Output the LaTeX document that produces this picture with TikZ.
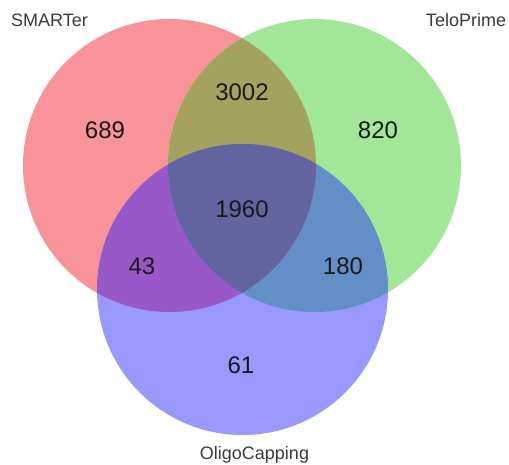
\documentclass[tikz,border=0pt]{standalone}
\usepackage{fontspec}
\setmainfont{Liberation Sans}
\definecolor{cR}{RGB}{248,147,153}
\definecolor{cG}{RGB}{162,230,152}
\definecolor{cB}{RGB}{153,152,252}
\definecolor{cRG}{RGB}{163,163,95}
\definecolor{cRB}{RGB}{152,88,200}
\definecolor{cGB}{RGB}{98,144,198}
\definecolor{cRGB}{RGB}{99,100,160}
\definecolor{txt}{RGB}{25,25,25}
\begin{document}
\begin{tikzpicture}[x=1pt,y=-1pt,
  num/.style={font=\fontsize{24}{24}\selectfont, text=txt, inner sep=0pt},
  lab/.style={font=\fontsize{18}{18}\selectfont, text=txt!85!white, inner sep=0pt}]
\useasboundingbox (0,0) rectangle (509,465);
\fill[white] (0,0) rectangle (509,465);
\def\R{(169.5,165.5) circle (146.5)}
\def\G{(314.5,165.5) circle (146.5)}
\def\B{(242.5,289.5) circle (145.5)}
\fill[cR] \R;
\fill[cG] \G;
\fill[cB] \B;
\begin{scope}\clip \R; \fill[cRG] \G; \fill[cRB] \B; \end{scope}
\begin{scope}\clip \G; \fill[cGB] \B; \end{scope}
\begin{scope}\clip \R; \clip \G; \fill[cRGB] \B; \end{scope}
\node[num] (n689) at (105,130) {689};
\node[num] (n3002) at (242,92) {3002};
\node[num] (n820) at (378,130) {820};
\node[num] (n1960) at (242,209) {1960};
\node[num] (n43) at (142,266) {43};
\node[num] (n180) at (343,266) {180};
\node[num] (n61) at (241,365) {61};
\node[lab] (smarter) at (49.5,20) {SMARTer};
\node[lab] (telo) at (466,20) {TeloPrime};
\node[lab] (oligo) at (254.5,455) {OligoCapping};
\end{tikzpicture}
\end{document}
